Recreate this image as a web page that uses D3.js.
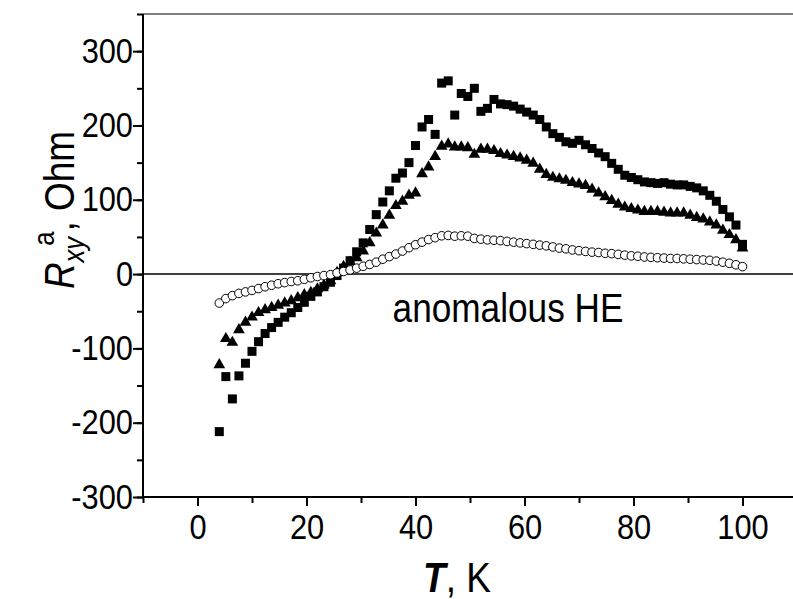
<!DOCTYPE html>
<html>
<head>
<meta charset="utf-8">
<script src="https://cdnjs.cloudflare.com/ajax/libs/d3/7.8.5/d3.min.js"></script>
<style>
  body { margin: 0; background: #fff; }
  text { font-family: "Liberation Sans", Arial, sans-serif; fill: #000; }
</style>
</head>
<body>
<div id="chartHolder"></div>
<script>
// temperatures (K), shared by the three series
const temps = [4.0, 5.2, 6.4, 7.6, 8.8, 10.0, 11.2, 12.4, 13.6, 14.8, 16.0, 17.2, 18.4, 19.6, 20.8,
  22.0, 23.2, 24.4, 25.6, 26.8, 28.0, 29.2, 30.4, 31.6, 32.8, 34.0, 35.2, 36.4, 37.6, 38.8,
  40.0, 41.2, 42.4, 43.6, 44.8, 46.0, 47.2, 48.4, 49.6, 50.8, 52.0, 53.2, 54.4, 55.6, 56.8,
  58.0, 59.2, 60.4, 61.6, 62.8, 64.0, 65.2, 66.4, 67.6, 68.8, 70.0, 71.2, 72.4, 73.6, 74.8,
  76.0, 77.2, 78.4, 79.6, 80.8, 82.0, 83.2, 84.4, 85.6, 86.8, 88.0, 89.2, 90.4, 91.6, 92.8,
  94.0, 95.2, 96.4, 97.6, 98.8, 100.0];

// filled squares
const squares = [-212, -138, -168, -137, -120, -104, -91, -80, -72, -65, -58, -52, -45, -38, -30,
  -24, -17, -11, -2, 8, 18, 30, 42, 60, 80, 97, 112, 129, 136, 150,
  173, 198, 208, 188, 257, 260, 214, 243, 239, 250, 219, 223, 235, 229, 228,
  226, 222, 218, 214, 208, 198, 189, 184, 178, 176, 180, 174, 169, 163, 158,
  149, 141, 133, 130, 127, 124, 123, 122, 123, 121, 120, 120, 118, 116, 112,
  106, 98, 87, 77, 66, 40];

// filled triangles
const triangles = [-122, -87, -92, -75, -65, -58, -52, -48, -45, -42, -39, -36, -32, -28, -25,
  -20, -15, -9, 2, 10, 16, 22, 31, 42, 55, 66, 79, 92, 98, 106,
  109, 135, 144, 158, 172, 175, 171, 171, 170, 161, 168, 168, 166, 162, 160,
  158, 156, 153, 149, 141, 134, 130, 128, 126, 123, 121, 119, 114, 109, 104,
  99, 94, 90, 88, 86, 84, 84, 84, 83, 82, 82, 82, 79, 76, 74,
  70, 66, 59, 53, 46, 35];

// open circles
const circles = [-39, -33, -29, -26, -24, -22, -19.5, -17, -15, -13, -11.5, -10, -9, -7, -5,
  -3.3, -2, -0.8, 1.5, 3.5, 5.5, 8, 10.5, 13, 16, 20, 23.5, 27, 31, 35.5,
  39.5, 43, 46.5, 49, 51.5, 52, 51, 51.5, 51, 48, 47, 46, 45.5, 45, 44,
  43, 42, 41, 40, 39, 38, 36.5, 35, 34, 32.5, 31.5, 30.5, 29.5, 29, 28,
  27.5, 26.5, 25.5, 24.5, 24, 23, 22.5, 22, 21.5, 21, 21, 20.5, 20, 19.5, 19,
  18.5, 17.5, 16, 14.5, 12.5, 10];

const xTicks = [0, 20, 40, 60, 80, 100];
const yTicks = [-300, -200, -100, 0, 100, 200, 300];

const w = 793;
const h = 599;
const padLeft = 143;
const padTop = 14;
const padBottom = 497;
const squeeze = 0.88; // the original lettering is a bit narrow

const xScale = d3.scaleLinear().domain([-10, 110]).range([padLeft, padLeft + 120 * 5.45]);
const yScale = d3.scaleLinear().domain([-300, 350]).range([padBottom, padTop]);

const svg = d3.select("#chartHolder").append("svg")
  .attr("width", w)
  .attr("height", h);

// top frame and zero line
svg.append("line")
  .attr("x1", padLeft).attr("x2", w).attr("y1", padTop).attr("y2", padTop)
  .attr("stroke", "#000").attr("stroke-width", 1.2);
svg.append("line")
  .attr("x1", padLeft).attr("x2", w).attr("y1", yScale(0)).attr("y2", yScale(0))
  .attr("stroke", "#000").attr("stroke-width", 1.5);

// minor ticks
const xAxisMinor = d3.axisBottom(xScale).tickValues(d3.range(-10, 111, 10)).tickSize(6).tickFormat("");
const yAxisMinor = d3.axisLeft(yScale).tickValues(d3.range(-300, 351, 50)).tickSize(6).tickFormat("");
const xAxis = d3.axisBottom(xScale).tickValues(xTicks).tickSize(9).tickPadding(8)
  .tickFormat(d => String(d));
const yAxis = d3.axisLeft(yScale).tickValues(yTicks).tickSize(10).tickPadding(3)
  .tickFormat(d => String(d)); // plain hyphen, like the original

svg.append("g").attr("transform", "translate(0," + padBottom + ")").call(xAxisMinor)
  .call(g => g.select(".domain").remove());
svg.append("g").attr("transform", "translate(" + padLeft + ",0)").call(yAxisMinor)
  .call(g => g.select(".domain").remove());

const gx = svg.append("g")
  .attr("transform", "translate(0," + padBottom + ")")
  .call(xAxis);
const gy = svg.append("g")
  .attr("transform", "translate(" + padLeft + ",0)")
  .call(yAxis);

svg.selectAll(".tick line").attr("stroke", "#000").attr("stroke-width", 2);
gx.select(".domain").attr("stroke-width", 2).attr("d", "M" + padLeft + ",0H" + w);
gy.select(".domain").attr("stroke-width", 2).attr("d", "M0," + padTop + "V" + padBottom);
gx.selectAll("text")
  .attr("font-size", 35)
  .attr("dy", "0.71em")
  .attr("transform", "scale(" + squeeze + ",1)");
gy.selectAll("text")
  .attr("font-size", 35)
  .attr("x", -10 / squeeze)
  .attr("transform", "scale(" + squeeze + ",1)");

// markers
const sq = 9;
svg.append("g").selectAll("rect")
  .data(temps.map((t, i) => [t, squares[i]]))
  .enter().append("rect")
  .attr("x", d => xScale(d[0]) - sq / 2)
  .attr("y", d => yScale(d[1]) - sq / 2)
  .attr("width", sq)
  .attr("height", sq)
  .attr("fill", "#000");

const tri = d3.symbol().type(d3.symbolTriangle).size(60);
svg.append("g").selectAll("path")
  .data(temps.map((t, i) => [t, triangles[i]]))
  .enter().append("path")
  .attr("d", tri)
  .attr("transform", d => "translate(" + xScale(d[0]) + "," + yScale(d[1]) + ")")
  .attr("fill", "#000");

svg.append("g").selectAll("circle")
  .data(temps.map((t, i) => [t, circles[i]]))
  .enter().append("circle")
  .attr("cx", d => xScale(d[0]))
  .attr("cy", d => yScale(d[1]))
  .attr("r", 4.3)
  .attr("fill", "#fff")
  .attr("stroke", "#000")
  .attr("stroke-width", 1);

// labels
svg.append("text")
  .attr("text-anchor", "middle")
  .attr("font-size", 40)
  .attr("transform", "translate(508,322)scale(" + squeeze + ",1)")
  .text("anomalous HE");

const xt = svg.append("text")
  .attr("text-anchor", "middle")
  .attr("font-size", 42)
  .attr("transform", "translate(457,592)scale(" + squeeze + ",1)");
xt.append("tspan").attr("font-weight", "bold").attr("font-style", "italic").text("T");
xt.append("tspan").text(", K");

const yt = svg.append("text")
  .attr("text-anchor", "middle")
  .attr("transform", "translate(74,210)rotate(-90)scale(" + squeeze + ",1)")
  .attr("font-size", 42);
yt.append("tspan").attr("font-style", "italic").text("R");
yt.append("tspan").attr("font-style", "italic").attr("font-size", 29).attr("dy", 10).text("xy");
yt.append("tspan").attr("font-size", 29).attr("dx", -10).attr("dy", -30).text("a");
yt.append("tspan").attr("dy", 20).text(", Ohm");
</script>
</body>
</html>
